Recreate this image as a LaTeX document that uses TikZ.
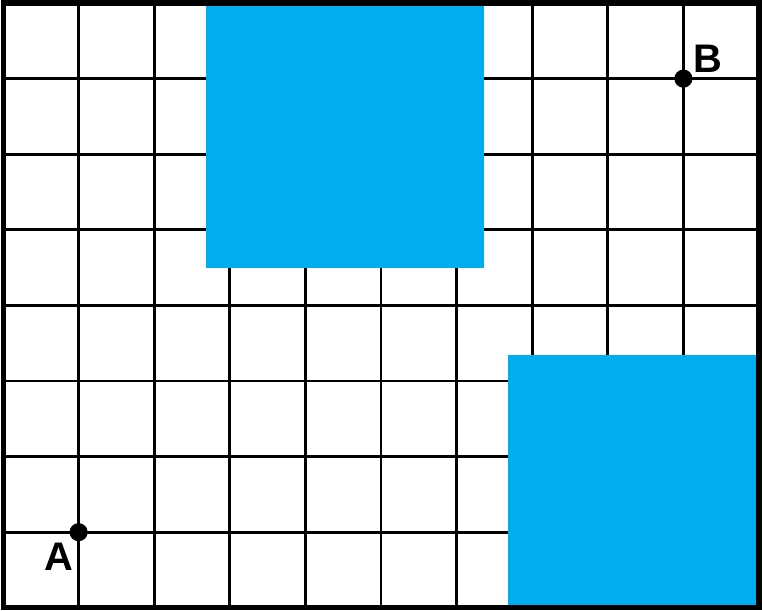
\documentclass[tikz,border=0pt]{standalone}
\usepackage{fontspec}
\setmainfont{Liberation Sans}
\usepackage{tikz}
\usetikzlibrary{positioning}
\definecolor{gridblue}{RGB}{0,174,239}

\begin{document}
\begin{tikzpicture}[
  gridline/.style={line width=1.1pt, color=black},
  block/.style={fill=gridblue, draw=none},
  pt/.style={circle, fill=black, inner sep=0pt, minimum size=0.24cm},
  lbl/.style={font=\fontsize{15}{17}\selectfont\bfseries, inner sep=0pt}
]
  \useasboundingbox (-0.04,-0.04) rectangle (10.04,8.04);
  % grid
  \foreach \x in {1,...,9} \draw[gridline] (\x,0) -- (\x,8);
  \foreach \y in {1,...,7} \draw[gridline] (0,\y) -- (10,\y);
  % obstacles
  \fill[block] (2.69,4.49) rectangle (6.36,8);
  \fill[block] (6.68,0) rectangle (10,3.34);
  % border
  \draw[line width=1.9pt] (0,0) rectangle (10,8);
  % points
  \node[pt] (a) at (1,1) {};
  \node[pt] (b) at (9,7) {};
  \node[lbl] (alabel) at (0.74,0.68) {A};
  \node[lbl] (blabel) at (9.33,7.26) {B};
\end{tikzpicture}
\end{document}
